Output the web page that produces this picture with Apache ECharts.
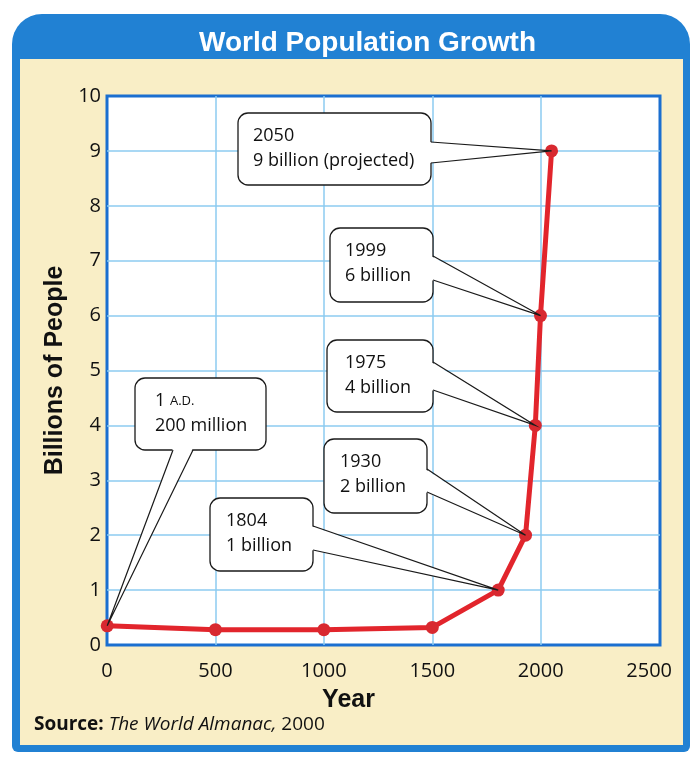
<!DOCTYPE html>
<html>
<head>
<meta charset="utf-8">
<title>World Population Growth</title>
<script src="https://cdn.jsdelivr.net/npm/echarts@6/dist/echarts.min.js"></script>
<style>
  html, body { margin: 0; padding: 0; background: #ffffff; }
  #main { width: 694px; height: 761px; }
</style>
</head>
<body>
<div id="main"></div>
<script>
// data
var years = [1, 500, 1000, 1500, 1804, 1930, 1975, 1999, 2050];
var billions = [0.35, 0.28, 0.28, 0.32, 1, 2, 4, 6, 9];
var xTicks = [0, 500, 1000, 1500, 2000, 2500];
var yTicks = [0, 1, 2, 3, 4, 5, 6, 7, 8, 9, 10];

// callouts: which point, and the two text lines
var calloutIndex = [0, 4, 5, 6, 7, 8];
var calloutLine1 = ['1 {sc|A.D.}', '1804', '1930', '1975', '1999', '2050'];
var calloutLine2 = ['200 million', '1 billion', '2 billion', '4 billion', '6 billion', '9 billion (projected)'];

// box layout (pixels), a1/a2 = where the pointer leaves the box
var calloutBoxes = [
  { x: 135, y: 378, w: 131, h: 72, a1: [173, 450], a2: [193, 450], tx: 155 },
  { x: 210, y: 498, w: 103, h: 73, a1: [313, 526], a2: [313, 550], tx: 226 },
  { x: 324, y: 439, w: 103, h: 74, a1: [427, 469], a2: [427, 492], tx: 340 },
  { x: 327, y: 340, w: 106, h: 72, a1: [433, 362], a2: [433, 390], tx: 345 },
  { x: 330, y: 228, w: 103, h: 74, a1: [433, 256], a2: [433, 280], tx: 345 },
  { x: 238, y: 113, w: 193, h: 72, a1: [431, 142], a2: [431, 163], tx: 253 }
];

var textFont = '"Open Sans", "Noto Sans", sans-serif';
var boldFont = '"Liberation Sans", Arial, sans-serif';
var gridBlue = '#8ccbf0';
var none = 'rgba(0,0,0,0)';

var myChart = echarts.init(document.getElementById('main'));

var lineData = years.map(function (y, i) { return [y, billions[i]]; });
var calloutData = calloutIndex.map(function (i) { return [years[i], billions[i]]; });

function renderCallout(params, api) {
  var k = params.dataIndex;
  var b = calloutBoxes[k];
  var tip = api.coord([api.value(0), api.value(1)]);
  // nudge attach points into the box so the white wedge hides the border
  var inx = 0, iny = 0;
  if (b.a1[1] === b.a2[1]) { iny = -2; } else { inx = -2; }
  return {
    type: 'group',
    children: [
      {
        type: 'rect',
        shape: { x: b.x, y: b.y, width: b.w, height: b.h, r: 10 },
        style: { fill: '#ffffff', stroke: '#1a1a1a', lineWidth: 1.3 }
      },
      {
        type: 'polygon',
        shape: { points: [[b.a1[0] + inx, b.a1[1] + iny], [b.a2[0] + inx, b.a2[1] + iny], tip] },
        style: { fill: '#ffffff' }
      },
      {
        type: 'polyline',
        shape: { points: [b.a1, tip, b.a2] },
        style: { fill: null, stroke: '#1a1a1a', lineWidth: 1.2 }
      },
      {
        type: 'text',
        style: {
          x: b.tx, y: b.y + 23,
          text: calloutLine1[k],
          fill: '#111',
          fontSize: 18, fontFamily: textFont,
          verticalAlign: 'middle',
          rich: { sc: { fontSize: 13, fontFamily: textFont, fill: '#111' } }
        }
      },
      {
        type: 'text',
        style: {
          x: b.tx, y: b.y + 48,
          text: calloutLine2[k],
          fill: '#111',
          fontSize: 18, fontFamily: textFont,
          verticalAlign: 'middle'
        }
      }
    ]
  };
}

var option = {
  backgroundColor: '#ffffff',
  animation: false,
  title: {
    text: 'World Population Growth',
    left: 194,
    top: 24,
    textStyle: {
      color: '#ffffff',
      fontSize: 28,
      fontWeight: 'bold',
      fontFamily: boldFont
    }
  },
  graphic: [
    {
      type: 'rect', z: -10,
      shape: { x: 12, y: 14, width: 678, height: 738, r: [30, 30, 6, 6] },
      style: { fill: '#2181d3' }
    },
    {
      type: 'rect', z: -9,
      shape: { x: 20, y: 59, width: 663, height: 686 },
      style: { fill: '#f9eec6' }
    },
    {
      type: 'text', z: 10,
      left: 34, top: 715,
      style: {
        text: '{b|Source:} {i|The World Almanac,} 2000',
        fill: '#111',
        fontSize: 19,
        fontFamily: textFont,
        rich: {
          b: { fontWeight: 'bold', fontSize: 19, fontFamily: textFont, fill: '#111' },
          i: { fontStyle: 'italic', fontSize: 19, fontFamily: textFont, fill: '#111' }
        }
      }
    }
  ],
  grid: {
    left: 107, right: 34, top: 96, bottom: 116,
    show: true,
    backgroundColor: '#ffffff',
    borderColor: '#1b6fd0',
    borderWidth: 3
  },
  xAxis: {
    type: 'value',
    min: xTicks[0],
    max: 2550,
    interval: 500,
    name: 'Year',
    nameLocation: 'middle',
    nameGap: 43,
    nameTextStyle: {
      color: '#111', fontSize: 25, fontWeight: 'bold',
      fontFamily: boldFont,
      padding: [0, 70, 0, 0]
    },
    axisLine: { show: false },
    axisTick: { show: false },
    axisLabel: {
      margin: 16,
      color: '#111',
      fontSize: 20,
      fontFamily: textFont,
      formatter: function (v) { return xTicks.indexOf(v) >= 0 ? String(v) : ''; }
    },
    splitLine: {
      lineStyle: {
        // no lines on the frame edges or at 2500
        color: [none, gridBlue, gridBlue, gridBlue, gridBlue, none, none],
        width: 1.5
      }
    }
  },
  yAxis: {
    type: 'value',
    min: yTicks[0],
    max: yTicks[yTicks.length - 1],
    interval: 1,
    name: 'Billions of People',
    nameLocation: 'middle',
    nameGap: 36,
    nameTextStyle: {
      color: '#111', fontSize: 25, fontWeight: 'bold',
      fontFamily: boldFont
    },
    axisLine: { show: false },
    axisTick: { show: false },
    axisLabel: {
      margin: 6,
      padding: [0, 0, 12, 0],
      color: '#111',
      fontSize: 20,
      fontFamily: textFont
    },
    splitLine: {
      lineStyle: {
        color: [none, gridBlue, gridBlue, gridBlue, gridBlue, gridBlue,
                gridBlue, gridBlue, gridBlue, gridBlue, none],
        width: 1.5
      }
    }
  },
  series: [
    {
      name: 'population',
      type: 'line',
      data: lineData,
      symbol: 'circle',
      symbolSize: 13,
      z: 3,
      lineStyle: { color: '#e2252c', width: 5 },
      itemStyle: { color: '#d82930' }
    },
    {
      name: 'callouts',
      type: 'custom',
      z: 4,
      data: calloutData,
      renderItem: renderCallout
    }
  ]
};

myChart.setOption(option);
</script>
</body>
</html>
